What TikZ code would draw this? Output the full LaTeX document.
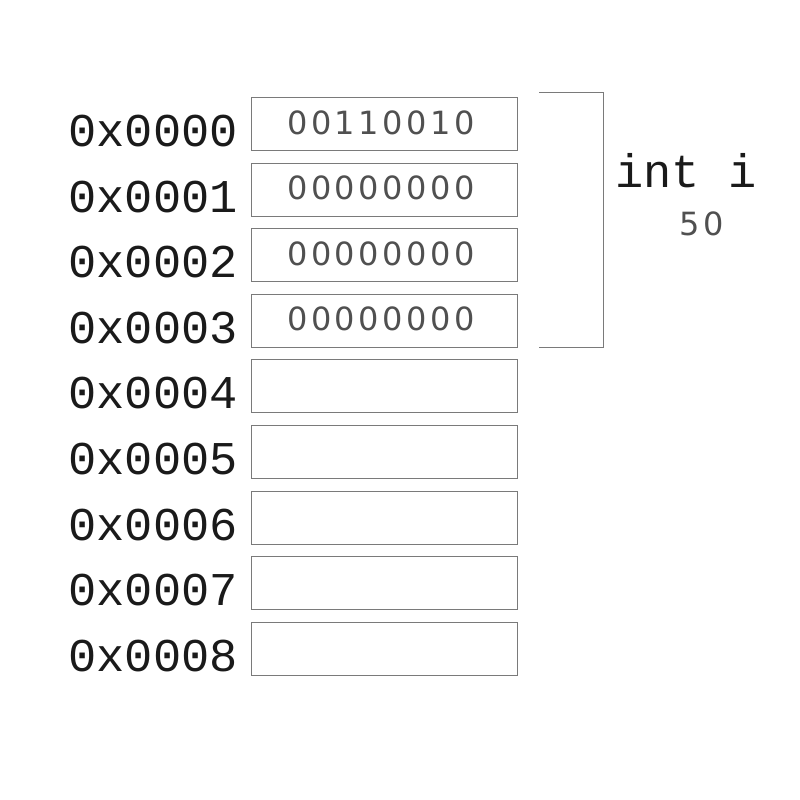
\documentclass[tikz,border=0pt]{standalone}
\usepackage{fontspec}
\newfontfamily\addrfont{Liberation Mono}
\newfontfamily\bitfont[LetterSpace=11]{DejaVu Sans}
\definecolor{boxgray}{HTML}{7A7A7A}
\definecolor{bitgray}{HTML}{505050}
\definecolor{addrgray}{HTML}{1A1A1A}
\begin{document}
\begin{tikzpicture}[x=1pt,y=-1pt,
  cell/.style={draw=boxgray,line width=1pt,minimum width=266pt,minimum height=53pt,inner sep=0pt,anchor=north west},
  addr/.style={font=\addrfont\fontsize{47}{47}\selectfont,text=addrgray,anchor=east,inner sep=0pt},
  bits/.style={font=\bitfont\fontsize{32}{32}\selectfont,text=bitgray,inner sep=0pt},
  brace/.style={draw=boxgray,line width=1pt}]
\useasboundingbox (0,0) rectangle (800,800);
\foreach \i/\a/\b in {0/0x0000/00110010,1/0x0001/00000000,2/0x0002/00000000,3/0x0003/00000000,4/0x0004/,5/0x0005/,6/0x0006/,7/0x0007/,8/0x0008/}{
  \node[cell] (c\i) at (251,{97+65.6*\i}) {};
  \node[addr] (a\i) at (238,{131+65.6*\i}) {\a};
  \node[bits,anchor=base west] (b\i) at (287,{134+65.6*\i}) {\b};
}
\coordinate (t1) at (539,92);
\coordinate (t2) at (603,92);
\coordinate (t3) at (603,347);
\coordinate (t4) at (539,347);
\draw[brace] (t1) -- (t2) -- (t3) -- (t4);
\node[font=\addrfont\fontsize{47}{47}\selectfont,text=addrgray,inner sep=0pt,anchor=base west] (var) at (615,187) {int i};
\node[bits,anchor=base west] (val) at (679,235) {50};
\end{tikzpicture}
\end{document}
